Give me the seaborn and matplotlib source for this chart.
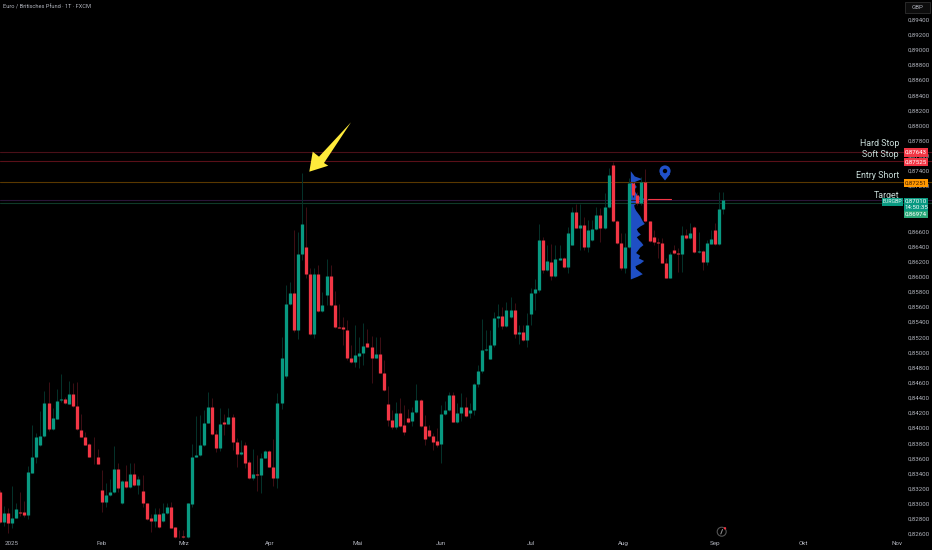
import matplotlib
matplotlib.use("Agg")
import numpy as np
import pandas as pd
import seaborn as sns
import matplotlib.pyplot as plt
from matplotlib.patches import Circle, Polygon, Rectangle
from matplotlib.ticker import FuncFormatter

# daily EUR/GBP candles
opens = [
    .83149, .82762, .82872, .82749, .82815, .82885, .82885, .82850, .83409, .83612,
    .83771, .83898, .84335, .83987, .84123, .84366, .84388, .84321, .84445, .84291,
    .83973, .83881, .83784, .83621, .83616, .83185, .83022, .83114, .83149, .83458,
    .83004, .83299, .83216, .83387, .83246, .83167, .83004, .82806, .82775, .82867,
    .82775, .82872, .82951, .82687, .82560, .82572, .82555, .82995, .83621, .83639,
    .83775, .84070, .84282, .83920, .83740, .84075, .84057, .84141, .83815, .83652,
    .83775, .83546, .83335, .83392, .83374, .83608, .83691, .83484, .83343, .84330,
    .84692, .85640, .85785, .85296, .86301, .86389, .86036, .85239, .86036, .85547,
    .85754, .86010, .85631, .85340, .85336, .85296, .84926, .84877, .84957, .84992,
    .85128, .85076, .84930, .84979, .84732, .84318, .84106, .84018, .84203, .84040,
    .84133, .84089, .84212, .84371, .84027, .83970, .83899, .83829, .83785, .84181,
    .84234, .84437, .84084, .84194, .84283, .84194, .84234, .84582, .84754, .85032,
    .84917, .85102, .85459, .85477, .85344, .85463, .85560, .85243, .85265, .85164,
    .85503, .85789, .85825, .86490, .86089, .86195, .86010, .86226, .86248, .86129,
    .86424, .86860, .86649, .86684, .86397, .86490, .86631, .86812, .86640, .86917,
    .87481, .86741, .86450, .86111, .86388, .87239, .87080, .86979, .87248, .86737,
    .86521, .86459, .86446, .86186, .85988, .86349, .86318, .86296, .86552, .86512,
    .86657, .86327, .86340, .86190, .86437, .86613, .86428, .86891,
]
highs = [
    .83180, .82973, .82938, .83238, .83004, .83158, .83039, .83498, .84039, .83929,
    .84229, .84489, .84608, .84260, .84511, .84714, .84414, .84617, .84590, .84608,
    .84185, .83951, .83797, .83881, .83722, .83440, .83277, .83321, .83762, .83533,
    .83312, .83511, .83533, .83542, .83365, .83379, .83013, .82867, .82938, .82938,
    .83004, .83004, .83026, .82691, .82652, .82652, .83004, .83788, .84158, .84167,
    .84238, .84471, .84392, .83973, .84260, .84185, .84260, .84185, .83863, .83841,
    .83819, .83577, .83722, .83643, .83665, .83709, .83709, .83854, .84458, .85208,
    .85891, .85926, .86613, .86587, .87367, .86926, .86111, .86111, .86155, .85803,
    .86230, .86155, .85812, .85635, .85463, .85428, .85098, .85362, .85208, .85384,
    .85305, .85217, .85208, .85199, .84899, .84556, .84238, .84349, .84393, .84305,
    .84247, .84283, .84578, .84379, .84172, .84040, .83930, .84005, .84305, .84357,
    .84481, .84481, .84335, .84459, .84406, .84327, .84591, .84833, .85446, .85296,
    .85296, .85538, .85635, .85596, .85670, .85737, .85648, .85362, .85362, .85516,
    .85847, .85966, .86693, .86530, .86420, .86428, .86420, .86420, .86265, .86662,
    .86926, .86957, .86961, .86785, .86745, .86750, .86926, .86904, .87102, .87433,
    .87512, .86750, .86574, .86574, .87301, .87257, .87124, .87323, .87424, .86737,
    .86618, .86508, .86508, .86243, .86331, .86419, .86375, .86675, .86631, .86706,
    .86671, .86596, .86353, .86485, .86618, .86706, .87124, .87116,
]
lows = [
    .82749, .82704, .82616, .82674, .82806, .82841, .82828, .82793, .83401, .83533,
    .83762, .83885, .83965, .83973, .84114, .84348, .84317, .84313, .84273, .83973,
    .83876, .83771, .83612, .83528, .83520, .82894, .82960, .83105, .83136, .83158,
    .82995, .83211, .83207, .83238, .83127, .82960, .82784, .82630, .82696, .82674,
    .82762, .82863, .82674, .82546, .82546, .82546, .82546, .82960, .83612, .83630,
    .83762, .84062, .83907, .83687, .83700, .83907, .84048, .83709, .83489, .83643,
    .83467, .83326, .83312, .83171, .83145, .83599, .83480, .83238, .83211, .84247,
    .84662, .85626, .85274, .85177, .86221, .85979, .85230, .85186, .85538, .85538,
    .85626, .85613, .85327, .85318, .85098, .84899, .84855, .84802, .84789, .84833,
    .85067, .84600, .84921, .84723, .84494, .84031, .83983, .83987, .84018, .83908,
    .84071, .84027, .84203, .84018, .83776, .83886, .83710, .83754, .83533, .84172,
    .84225, .84075, .84071, .84093, .84150, .84128, .84172, .84538, .84723, .85020,
    .84908, .85076, .85340, .85305, .85331, .85450, .85186, .85111, .85155, .85067,
    .85362, .85560, .85803, .86045, .86080, .85957, .86001, .86221, .86120, .86054,
    .86420, .86640, .86353, .86353, .86331, .86472, .86618, .86455, .86630, .86904,
    .86728, .86428, .86089, .86045, .86375, .87058, .86948, .86948, .86728, .86463,
    .86419, .86243, .86177, .85979, .85979, .86300, .86067, .86067, .86499, .86499,
    .86318, .86318, .86089, .86155, .86428, .86419, .86419, .86825,
]
closes = [
    .82762, .82872, .82749, .82815, .82929, .82876, .82850, .83414, .83612, .83876,
    .83894, .84335, .83987, .84128, .84357, .84388, .84326, .84445, .84291, .83982,
    .83881, .83780, .83616, .83612, .83524, .83022, .83114, .83154, .83458, .83202,
    .83299, .83216, .83387, .83246, .83321, .83004, .82797, .82775, .82867, .82687,
    .82872, .82951, .82682, .82555, .82555, .82555, .83004, .83621, .83643, .83771,
    .84070, .84282, .83916, .83740, .84048, .84057, .84141, .83815, .83652, .83683,
    .83542, .83335, .83392, .83374, .83599, .83691, .83489, .83343, .84335, .84921,
    .85640, .85785, .85296, .86305, .86702, .86032, .85239, .86036, .85547, .85631,
    .86010, .85626, .85336, .85322, .85309, .84921, .84877, .84961, .84992, .85080,
    .85071, .84930, .84979, .84728, .84503, .84102, .84018, .84203, .84031, .83952,
    .84084, .84212, .84371, .84027, .83860, .83895, .83815, .83780, .84186, .84238,
    .84437, .84084, .84203, .84283, .84159, .84238, .84582, .84754, .85032, .85045,
    .85102, .85459, .85477, .85344, .85560, .85560, .85243, .85265, .85164, .85362,
    .85789, .85833, .86490, .86089, .86208, .86010, .86230, .86248, .86129, .86578,
    .86860, .86649, .86684, .86397, .86613, .86631, .86812, .86640, .86917, .87340,
    .86741, .86450, .86111, .86388, .87239, .87080, .86970, .87248, .86737, .86477,
    .86455, .86441, .86181, .85988, .86305, .86309, .86296, .86552, .86508, .86578,
    .86327, .86340, .86190, .86441, .86494, .86428, .86895, .87010,
]

price_ticks = [0.826, 0.828, 0.83, 0.832, 0.834, 0.836, 0.838, 0.84, 0.842, 0.844, 0.846, 0.848,
               0.85, 0.852, 0.854, 0.856, 0.858, 0.86, 0.862, 0.864, 0.866, 0.872, 0.874, 0.876,
               0.878, 0.88, 0.882, 0.884, 0.886, 0.888, 0.89, 0.892, 0.894]
month_labels = ["2025", "Feb", "Mrz", "Apr", "Mai", "Jun", "Jul", "Aug", "Sep", "Okt", "Nov"]
month_positions = [3.06, 25, 45, 66, 87.7, 108, 130, 152.5, 175, 196.6, 219.5]

level_names = ["Hard Stop", "Soft Stop", "Entry Short", "Target"]
level_prices = [0.87643, 0.87525, 0.87251, 0.86974]
level_lines = ["#4a1018", "#5a1018", "#5a3800", "#0f3a28"]
last_price = 0.87010

# volume profile from top to bottom of its price range
profile_top, profile_bottom = 0.87402, 0.85970
profile_volume = [0, 6, 12, 34, 14, 12, 18, 10, 14, 20, 30, 54, 20, 10, 12, 16, 22, 28, 32, 36, 42,
                  28, 18, 22, 30, 18, 24, 32, 38, 28, 22, 16, 28, 24, 40, 30, 14, 16, 26, 36, 20, 0]

GREEN, RED = "#089981", "#f23645"
GREY = "#b2b5be"

sns.set_theme(style="dark", rc={"axes.facecolor": "black", "figure.facecolor": "black",
                                "axes.grid": False})
plt.rcParams["font.family"] = ["Roboto", "DejaVu Sans"]

candles = pd.DataFrame({"candle": np.arange(len(opens)), "open": opens, "high": highs,
                        "low": lows, "close": closes})
candles["side"] = np.where(candles["close"] >= candles["open"], "up", "down")
bodies = candles.melt(id_vars=["candle", "side"], value_vars=["open", "close"], value_name="price")
wicks = candles.melt(id_vars=["candle", "side"], value_vars=["high", "low"], value_name="price")

fig = plt.figure(figsize=(9.32, 5.5), dpi=100)
ax = fig.add_axes([0, 0, 1, 1])

# volume profile sits behind the candles
profile_prices = np.linspace(profile_top, profile_bottom, len(profile_volume))
ax.fill_betweenx(profile_prices, 154.3, 154.3 + np.array(profile_volume) * 0.0815,
                 color="#1f4fc4", lw=0, zorder=1)

for price, colour in zip(level_prices, level_lines):
    ax.axhline(price, color=colour, lw=0.8, zorder=1.5)
ax.axhline(last_price + 0.00005, color="#2a1538", lw=0.8, zorder=1.5)

sns.lineplot(data=wicks, x="candle", y="price", units="candle", hue="side", estimator=None,
             palette={"up": "#05332b", "down": "#3f0f15"}, linewidth=0.7, legend=False,
             solid_capstyle="butt", ax=ax)
sns.lineplot(data=bodies, x="candle", y="price", units="candle", hue="side", estimator=None,
             palette={"up": GREEN, "down": RED}, linewidth=2.35, legend=False,
             solid_capstyle="butt", ax=ax)
ax.plot([158.6, 164.3], [0.87023, 0.87023], color=RED, lw=0.8)

ax.set_xlim(0.122, 228.1)
ax.set_ylim(0.82387, 0.89658)
ax.set_xlabel("")
ax.set_ylabel("")
ax.yaxis.tick_right()
ax.set_yticks(price_ticks)
ax.yaxis.set_major_formatter(FuncFormatter(lambda v, _: f"{v:.5f}".replace(".", ",")))
ax.set_xticks(month_positions)
ax.set_xticklabels(month_labels)
ax.tick_params(axis="y", length=0, pad=-17.3, labelsize=4.4, labelcolor=GREY)
ax.tick_params(axis="x", length=0, pad=-6.8, labelsize=4.5, labelcolor=GREY)
for spine in ax.spines.values():
    spine.set_visible(False)

# everything else is annotation, placed in picture coordinates
ov = fig.add_axes([0, 0, 1, 1])
ov.set_xlim(0, 932)
ov.set_ylim(550, 0)
ov.axis("off")

ov.text(3, 7, "Euro / Britisches Pfund · 1T · FXCM", color=GREY, fontsize=4.1, va="center")

ov.add_patch(Rectangle((905, 1.5), 25, 11.5, fc="#0c0c0c", ec="#2a2a2a", lw=0.7))
ov.text(917.5, 7.5, "GBP", color=GREY, fontsize=4.4, ha="center", va="center")

# yellow arrow
ov.add_patch(Polygon([(309.3, 171.7), (312.7, 151.7), (319, 156.7), (351, 122.3),
                      (324, 163), (328.3, 165.7)], fc="#ffeb3b", ec="none"))

# map pin
ov.add_patch(Polygon([(659.8, 174), (670.2, 174), (665, 180.5)], fc="#2050c8", ec="none"))
ov.add_patch(Circle((665, 171), 5.6, fc="#2050c8", ec="none"))
ov.add_patch(Circle((665, 171), 2.2, fc="black", ec="none"))

# level names
for name, y in zip(level_names, [144, 154.5, 175, 196]):
    ov.text(899, y, name, color="#c8dcd8", fontsize=6.4, ha="right", va="center")

# price boxes on the scale
def price_box(y0, y1, colour, text, text_colour="white"):
    ov.add_patch(Rectangle((904, y0), 24, y1 - y0, fc=colour, ec="none", zorder=3))
    ov.text(916, (y0 + y1) / 2, text, color=text_colour, fontsize=4.4, ha="center",
            va="center", zorder=4)

def comma(v):
    return f"{v:.5f}".replace(".", ",")

price_box(148, 157, RED, comma(level_prices[0]))
price_box(158, 166, RED, comma(level_prices[1]))
price_box(179, 187, "#ff9800", comma(level_prices[2]), "#3a1a00")
price_box(198, 211, GREEN, "")
ov.text(916, 201.5, comma(last_price), color="white", fontsize=4.4, ha="center", va="center", zorder=4)
ov.text(916, 207.5, "14:50:35", color="white", fontsize=4.4, ha="center", va="center", zorder=4)
price_box(211, 218, "#2aa878", comma(level_prices[3]))
ov.add_patch(Rectangle((882, 198), 21, 7.5, fc=GREEN, ec="none", zorder=3))
ov.text(892.5, 201.8, "EURGBP", color="#e8f5f2", fontsize=3.8, ha="center", va="center", zorder=4)

# small icon at the bottom
ov.add_patch(Circle((721.7, 531.7), 4.5, fc="black", ec="#555555", lw=0.8))
ov.plot([722.5, 720.8], [529.5, 534], color="#9a9a9a", lw=0.7)
ov.add_patch(Circle((725, 528.3), 1.2, fc=RED, ec="none"))

fig.savefig("out.png", dpi=100, facecolor="black")
